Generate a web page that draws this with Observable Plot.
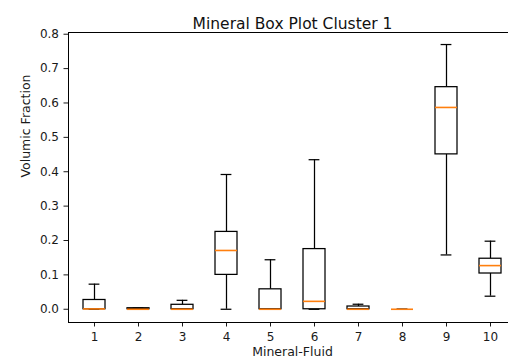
<!DOCTYPE html>
<html>
<head>
<meta charset="utf-8">
<script src="https://cdn.jsdelivr.net/npm/d3@7"></script>
<script src="https://cdn.jsdelivr.net/npm/@observablehq/plot@0.6"></script>
<style>
  html, body { margin: 0; padding: 0; background: white; overflow: hidden; }
  #chart { width: 508px; height: 362px; overflow: hidden; }
</style>
</head>
<body>
<div id="chart"></div>
<script>
const categories = [1, 2, 3, 4, 5, 6, 7, 8, 9, 10];
const whiskerLow  = [0, 0, 0, 0, 0, 0, 0, 0, 0.158, 0.038];
const q1          = [0, 0, 0, 0.100, 0, 0, 0, 0, 0.4505, 0.104];
const median      = [0.001, 0, 0, 0.171, 0, 0.023, 0, 0, 0.587, 0.127];
const q3          = [0.027, 0.003, 0.013, 0.225, 0.058, 0.175, 0.008, 0, 0.646, 0.147];
const whiskerHigh = [0.073, 0.004, 0.026, 0.392, 0.144, 0.435, 0.0146, 0, 0.770, 0.198];
const yTicks = [0, 0.1, 0.2, 0.3, 0.4, 0.5, 0.6, 0.7, 0.8];
const title = "Mineral Box Plot Cluster 1";
const xLabel = "Mineral-Fluid";
const yLabel = "Volumic Fraction";

const data = categories.map((c, i) => ({
  cat: c, lo: whiskerLow[i], q1: q1[i], med: median[i], q3: q3[i], hi: whiskerHigh[i]
}));

const font = "DejaVu Sans, sans-serif";
const capInset = 5.6;
const lw = 1.25;

const chart = Plot.plot({
  width: 508,
  height: 362,
  marginLeft: 68,
  marginRight: -8,
  marginTop: 32,
  marginBottom: 40,
  style: { fontFamily: font, fontSize: "12px", color: "#1a1a1a", background: "white" },
  x: { type: "band", domain: categories, paddingInner: 0.5, paddingOuter: 0.25, label: null,
       tickSize: 4.5, tickPadding: 5 },
  y: { domain: [-0.0385, 0.805], ticks: yTicks, tickFormat: ".1f", label: null,
       tickSize: 4.5, tickPadding: 5 },
  marks: [
    Plot.ruleX(data, { x: "cat", y1: "lo", y2: "q1", stroke: "black", strokeWidth: lw }),
    Plot.ruleX(data, { x: "cat", y1: "q3", y2: "hi", stroke: "black", strokeWidth: lw }),
    Plot.tickY(data, { x: "cat", y: "lo", stroke: "black", strokeWidth: lw, insetLeft: capInset, insetRight: capInset }),
    Plot.tickY(data, { x: "cat", y: "hi", stroke: "black", strokeWidth: lw, insetLeft: capInset, insetRight: capInset }),
    Plot.barY(data, { x: "cat", y1: "q1", y2: "q3", fill: "white", stroke: "black", strokeWidth: lw }),
    Plot.tickY(data, { x: "cat", y: "med", stroke: "#ff7f0e", strokeWidth: 1.6 }),
    Plot.frame({ stroke: "black", strokeWidth: 1 }),
    Plot.text([title], { frameAnchor: "top", dy: -14.5, fontSize: 15.5, fill: "#111" }),
    Plot.text([xLabel], { frameAnchor: "bottom", dy: 33, fontSize: 12.5, fill: "#1a1a1a" }),
    Plot.text([yLabel], { frameAnchor: "left", dx: -43, rotate: -90, fontSize: 12.5, fill: "#1a1a1a" })
  ]
});
document.getElementById("chart").appendChild(chart);
</script>
</body>
</html>
